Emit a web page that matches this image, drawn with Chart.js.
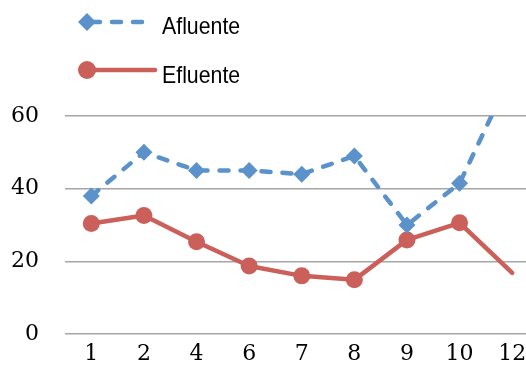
<!DOCTYPE html>
<html>
<head>
<meta charset="utf-8">
<script src="https://cdn.jsdelivr.net/npm/chart.js@4.4.1/dist/chart.umd.min.js"></script>
<style>
  html, body { margin: 0; padding: 0; background: #fff; }
  #wrap { width: 526px; height: 379px; overflow: hidden; position: relative; }
  canvas { display: block; }
</style>
</head>
<body>
<div id="wrap"><canvas id="c" width="547" height="379"></canvas></div>
<script>
const categories = ['1', '2', '4', '6', '7', '8', '9', '10', '12'];
const afluente = [38, 50, 45, 45, 44, 49, 30, 41.5, 72];
const efluente = [30.4, 32.6, 25.4, 18.7, 16, 14.9, 25.9, 30.6, 16.8];
const yTicks = [0, 20, 40, 60];

const BLUE = '#5b92cc';
const RED = '#cb5f59';

// Legend drawn as a vertical list with line + marker samples
const legendPlugin = {
  id: 'sampleLegend',
  afterDraw(chart) {
    const ctx = chart.ctx;
    const items = [
      { label: 'Afluente', color: BLUE, dash: [9, 12], style: 'diamond', y: 22, base: 34 },
      { label: 'Efluente', color: RED, dash: [], style: 'circle', y: 70, base: 83 }
    ];
    ctx.save();
    items.forEach(it => {
      ctx.strokeStyle = it.color;
      ctx.lineWidth = 4.5;
      ctx.lineCap = 'round';
      ctx.setLineDash(it.dash);
      ctx.beginPath();
      ctx.moveTo(91, it.y);
      ctx.lineTo(it.style === 'diamond' ? 148 : 155, it.y);
      ctx.stroke();
      ctx.setLineDash([]);
      ctx.fillStyle = it.color;
      ctx.beginPath();
      if (it.style === 'diamond') {
        const r = 9;
        ctx.moveTo(87, it.y - r);
        ctx.lineTo(87 + r, it.y);
        ctx.lineTo(87, it.y + r);
        ctx.lineTo(87 - r, it.y);
        ctx.closePath();
      } else {
        ctx.arc(87, it.y, 9, 0, Math.PI * 2);
      }
      ctx.fill();
      // condensed sans label
      ctx.save();
      ctx.translate(162, it.base);
      ctx.scale(0.87, 1);
      ctx.fillStyle = '#000';
      ctx.font = '24.5px "Liberation Sans", Arial, sans-serif';
      ctx.textBaseline = 'alphabetic';
      ctx.textAlign = 'left';
      ctx.fillText(it.label, 0, 0);
      ctx.restore();
    });
    ctx.restore();
  }
};

new Chart(document.getElementById('c'), {
  type: 'line',
  data: {
    labels: categories,
    datasets: [
      {
        label: 'Afluente',
        data: afluente,
        borderColor: BLUE,
        backgroundColor: BLUE,
        borderWidth: 4.5,
        borderDash: [9, 12],
        borderCapStyle: 'round',
        borderJoinStyle: 'round',
        pointStyle: 'rectRot',
        pointRadius: 8.5,
        pointBorderWidth: 0,
        pointBackgroundColor: BLUE,
        tension: 0,
        clip: { left: 20, top: 0, right: 30, bottom: 20 }
      },
      {
        label: 'Efluente',
        data: efluente,
        borderColor: RED,
        backgroundColor: RED,
        borderWidth: 4.5,
        borderCapStyle: 'round',
        borderJoinStyle: 'round',
        pointStyle: 'circle',
        pointRadius: efluente.map((v, i) => i === efluente.length - 1 ? 0 : 8.5),
        pointBorderWidth: 0,
        pointBackgroundColor: RED,
        tension: 0,
        clip: { left: 20, top: 0, right: 30, bottom: 20 }
      }
    ]
  },
  options: {
    responsive: false,
    animation: false,
    layout: { padding: { top: 116, left: 0, right: 0, bottom: 0 } },
    plugins: {
      legend: { display: false },
      tooltip: { enabled: false }
    },
    scales: {
      x: {
        offset: true,
        grid: { display: false, drawTicks: false },
        border: { display: false },
        ticks: {
          color: '#000',
          padding: 7,
          maxRotation: 0,
          autoSkip: false,
          font: { family: '"DejaVu Serif", serif', size: 22 }
        },
        afterFit(scale) { scale.height = 45; }
      },
      y: {
        min: 0,
        max: 60,
        afterBuildTicks(scale) { scale.ticks = yTicks.map(v => ({ value: v })); },
        grid: { color: '#a6a6a6', lineWidth: 1.5, drawTicks: false },
        border: { display: false },
        ticks: {
          color: '#000',
          padding: 26,
          font: { family: '"DejaVu Serif", serif', size: 22 }
        },
        afterFit(scale) { scale.width = 65; }
      }
    }
  },
  plugins: [legendPlugin]
});
</script>
</body>
</html>
